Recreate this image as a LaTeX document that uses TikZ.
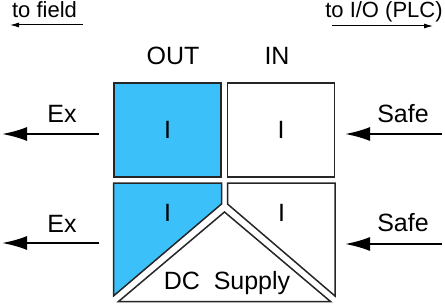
\documentclass[tikz,border=0pt]{standalone}
\usepackage{fontspec}
\setmainfont{Liberation Sans}
\usepackage{xcolor}
\usepackage{tikz}
\usetikzlibrary{arrows.meta,positioning}
\definecolor{exblue}{RGB}{60,192,250}

\begin{document}
\begin{tikzpicture}[x=1pt,y=-1pt,>=Stealth,node distance=5pt]
\tikzstyle{box}=[draw=black!85,line width=1.5pt,minimum width=107pt,minimum height=94pt,inner sep=0pt,font=\fontsize{25}{25}\selectfont]
\tikzstyle{part}=[draw=black!85,line width=1.5pt,line join=miter]
\tikzstyle{lbl}=[font=\fontsize{25}{25}\selectfont,anchor=base,inner sep=0pt]
\tikzstyle{small}=[font=\fontsize{22}{22}\selectfont,anchor=base,inner sep=0pt]
\tikzstyle{big}=[-{Latex[length=25pt,width=14pt]},line width=2pt]
\tikzstyle{thin}=[-{Latex[length=9pt,width=5pt]},line width=1pt]
\useasboundingbox (0,0) rectangle (445,305);
\node[box,fill=exblue] (ot) at (167.5,130) {I};
\node[box,right=5pt of ot] (it) {I};
\node[lbl] (out) at (173,65) {OUT};
\node[lbl] (in) at (277,65) {IN};
\draw[part,fill=exblue] (113.5,183) -- (221.5,183) -- (221.5,204) -- (113.5,296) -- cycle;
\draw[part,fill=white] (227.5,183) -- (335,183) -- (335,296) -- (227.5,204) -- cycle;
\draw[part,fill=white] (224.5,212) -- (330.5,301.5) -- (118.5,301.5) -- cycle;
\node[lbl] (ob) at (167.5,221) {I};
\node[lbl] (ib) at (281.5,221) {I};
\node[lbl] (dc) at (227,289) {DC~~Supply};
\node[small] (fld) at (44.5,18) {to field};
\node[small] (plc) at (384,18) {to I/O (PLC)};
\coordinate (f0) at (83,25);
\coordinate (f1) at (10,25);
\coordinate (p0) at (332,26);
\coordinate (p1) at (433,26);
\draw[thin] (f0) -- (f1);
\draw[thin] (p0) -- (p1);
\node[lbl] (ex1) at (62,123) {Ex};
\node[lbl] (ex2) at (62,232) {Ex};
\node[lbl] (sf1) at (403,122) {Safe};
\node[lbl] (sf2) at (403,231) {Safe};
\coordinate (a1) at (99,134);
\coordinate (b1) at (2,134);
\coordinate (a2) at (99,243);
\coordinate (b2) at (2,243);
\coordinate (c1) at (442,134);
\coordinate (d1) at (345,134);
\coordinate (c2) at (442,244);
\coordinate (d2) at (345,244);
\draw[big] (a1) -- (b1);
\draw[big] (a2) -- (b2);
\draw[big] (c1) -- (d1);
\draw[big] (c2) -- (d2);
\end{tikzpicture}
\end{document}
